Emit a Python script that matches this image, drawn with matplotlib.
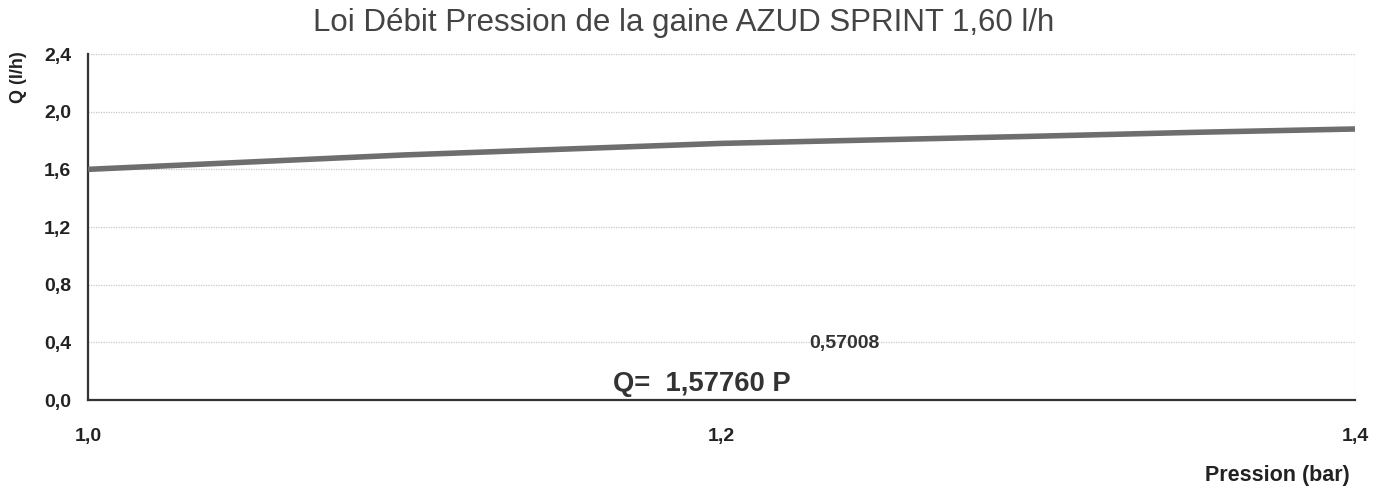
import matplotlib
matplotlib.use("Agg")
import matplotlib.pyplot as plt
from matplotlib.ticker import FuncFormatter

# valeurs
pression = [1.00, 1.05, 1.10, 1.15, 1.20, 1.25, 1.30, 1.35, 1.40]
debit = [1.60, 1.65, 1.70, 1.74, 1.78, 1.805, 1.83, 1.857, 1.88]
y_ticks = [0.0, 0.4, 0.8, 1.2, 1.6, 2.0, 2.4]
x_ticks = [1.0, 1.2, 1.4]

plt.rcParams['font.family'] = ['Liberation Sans', 'DejaVu Sans']

fig = plt.figure(figsize=(13.93, 4.91), dpi=100)
ax = fig.add_axes([0.0632, 0.1853, 0.9095, 0.7047])

# grille pointillee
for v in y_ticks[1:]:
    ax.axhline(v, color='#c8c8c8', lw=0.9, ls=(0, (1, 1)), zorder=1)
ax.axvline(1.4, color='#c8c8c8', lw=0.9, ls=(0, (1, 1)), zorder=1)

ax.plot(pression, debit, color='#6e6e6e', lw=4.0, solid_capstyle='butt', zorder=3)

ax.set_xlim(1.0, 1.4)
ax.set_ylim(0.0, 2.4)
ax.set_xticks(x_ticks)
ax.set_yticks(y_ticks)
fmt = FuncFormatter(lambda v, p: f"{v:.1f}".replace('.', ','))
ax.xaxis.set_major_formatter(fmt)
ax.yaxis.set_major_formatter(fmt)
ax.tick_params(axis='both', length=0, labelsize=14, colors='#222222')
ax.tick_params(axis='x', pad=20)
ax.tick_params(axis='y', pad=12)
for lab in ax.get_xticklabels() + ax.get_yticklabels():
    lab.set_fontweight('bold')

for s in ['top', 'right']:
    ax.spines[s].set_visible(False)
ax.spines['left'].set_color('#333333')
ax.spines['bottom'].set_color('#333333')
ax.spines['left'].set_linewidth(1.6)
ax.spines['bottom'].set_linewidth(1.6)

fig.text(0.491, 0.954, "Loi Débit Pression de la gaine AZUD SPRINT 1,60 l/h",
         ha='center', va='center', fontsize=22.5, color='#444444')
fig.text(0.013, 0.843, "Q (l/h)", rotation=90, ha='center', va='center',
         fontsize=13, fontweight='bold', color='#222222')
fig.text(0.969, 0.032, "Pression (bar)", ha='right', va='center',
         fontsize=15.5, fontweight='bold', color='#222222')

fig.text(0.440, 0.218, "Q=  1,57760 P", ha='left', va='center',
         fontsize=19.7, fontweight='bold', color='#333333')
fig.text(0.581, 0.300, "0,57008", ha='left', va='center',
         fontsize=14, fontweight='bold', color='#333333')

fig.savefig("out.png", dpi=100)
